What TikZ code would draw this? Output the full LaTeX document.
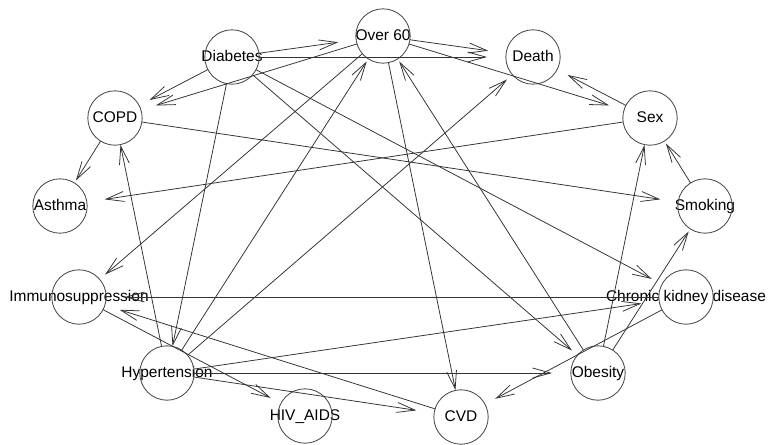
\documentclass[tikz,border=0pt]{standalone}
\usepackage{fontspec}
\setmainfont{Liberation Sans}
\usepackage{xcolor}
\usetikzlibrary{shapes.geometric,arrows.meta}
\definecolor{NetEdge}{HTML}{333333}
\definecolor{NetRing}{HTML}{4A4A4A}
\tikzset{
  vtx/.style={ellipse,minimum width=2.30cm,minimum height=1.36cm,inner sep=0pt,outer sep=0pt,
    text height=1.5ex,text depth=.25ex,font=\fontsize{11}{13}\selectfont},
  link/.style={NetEdge,line width=0.55pt,shorten <=0.68cm,
    -{Straight Barb[length=0.45cm,width=0.25cm]}},
  ring/.style={NetRing,line width=0.6pt}
}
\newcommand{\vname}[1]{\makebox[0pt]{#1}}

\begin{document}
\begin{tikzpicture}[x=1cm,y=1cm]
\path[use as bounding box] (0,0) rectangle (19.225,11.10);
% vertices
\node[vtx] (ov) at (9.575,10.20) {\vname{Over 60}};
\node[vtx] (db) at (5.80,9.675) {\vname{Diabetes}};
\node[vtx] (de) at (13.325,9.675) {\vname{Death}};
\node[vtx] (cp) at (2.875,8.15) {\vname{COPD}};
\node[vtx] (sx) at (16.25,8.15) {\vname{Sex}};
\node[vtx] (as) at (1.50,5.95) {\vname{Asthma}};
\node[vtx] (sm) at (17.625,5.95) {\vname{Smoking}};
\node[vtx] (im) at (1.975,3.675) {\vname{Immunosuppression}};
\node[vtx] (ck) at (17.15,3.675) {\vname{Chronic kidney disease}};
\node[vtx] (hy) at (4.175,1.775) {\vname{Hypertension}};
\node[vtx] (ob) at (14.95,1.775) {\vname{Obesity}};
\node[vtx] (hv) at (7.625,0.70) {\vname{HIV\_AIDS}};
\node[vtx] (cv) at (11.525,0.675) {\vname{CVD}};
\foreach \v in {ov,db,de,cp,sx,as,sm,im,ck,hy,ob,hv,cv}
  \draw[ring] (\v.center) circle[radius=0.68cm];
% edges
\draw[link] (db.center) -- (ov);
\draw[link] (db.center) -- (de);
\draw[link] (ov.center) -- (de);
\draw[link] (ov.center) -- (sx);
\draw[link] (sx.center) -- (de);
\draw[link] (ov.center) -- (cp);
\draw[link] (db.center) -- (cp);
\draw[link] (cp.center) -- (as);
\draw[link] (cp.center) -- (sm);
\draw[link] (sx.center) -- (as);
\draw[link] (sm.center) -- (sx);
\draw[link] (ob.center) -- (sx);
\draw[link] (ob.center) -- (sm);
\draw[link] (ck.center) -- (cv);
\draw[link] (hy.center) -- (ob);
\draw[link] (hy.center) -- (ck);
\draw[link] (db.center) -- (ck);
\draw[link] (db.center) -- (ob);
\draw[link] (ov.center) -- (cv);
\draw[link] (ob.center) -- (ov);
\draw[link] (hy.center) -- (ov);
\draw[link] (hy.center) -- (de);
\draw[link] (hy.center) -- (cp);
\draw[link] (db.center) -- (hy);
\draw[link] (ov.center) -- (im);
\draw[link] (ck.center) -- (im);
\draw[link] (cv.center) -- (im);
\draw[link] (im.center) -- (hv);
\draw[link] (hy.center) -- (cv);
\end{tikzpicture}
\end{document}
